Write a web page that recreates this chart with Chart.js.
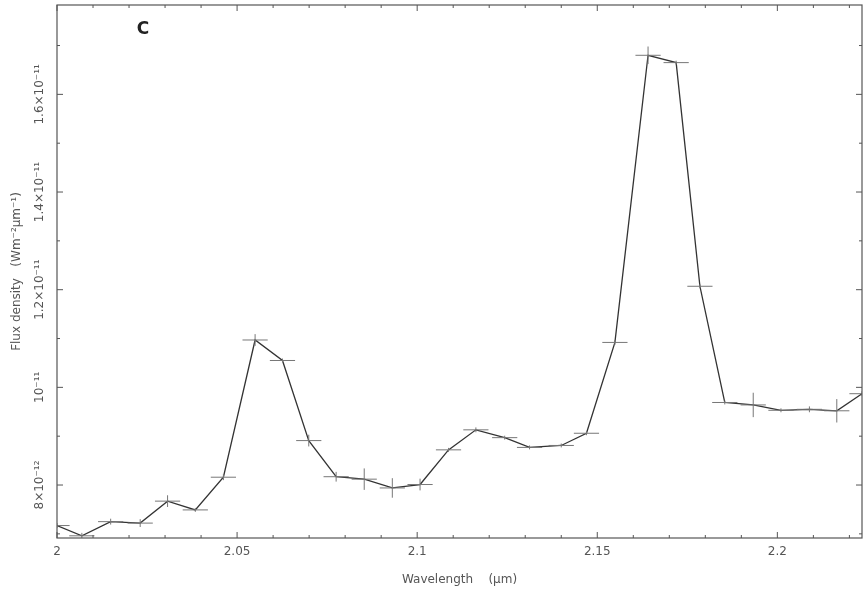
<!DOCTYPE html>
<html>
<head>
<meta charset="utf-8">
<script src="https://cdn.jsdelivr.net/npm/chart.js@4.4.0/dist/chart.umd.min.js"></script>
<style>
  html, body { margin: 0; padding: 0; background: #fff; }
</style>
</head>
<body>
<canvas id="spectrumChart" width="867" height="605"></canvas>
<script>
// wavelength in micron, flux density in W m^-2 um^-1
const wavelength = [
  2.0000, 2.0069, 2.0149, 2.0231, 2.0307, 2.0384, 2.0462, 2.0550, 2.0626, 2.0699,
  2.0775, 2.0853, 2.0931, 2.1008, 2.1087, 2.1163, 2.1243, 2.1312, 2.1400, 2.1470,
  2.1549, 2.1641, 2.1719, 2.1785, 2.1854, 2.1933, 2.2010, 2.2089, 2.2165, 2.2235
];
const flux = [
  7.17e-12, 6.96e-12, 7.25e-12, 7.22e-12, 7.67e-12, 7.49e-12, 8.16e-12, 1.097e-11, 1.055e-11, 8.91e-12,
  8.17e-12, 8.12e-12, 7.94e-12, 8.01e-12, 8.72e-12, 9.13e-12, 8.97e-12, 8.77e-12, 8.81e-12, 9.06e-12,
  1.092e-11, 1.680e-11, 1.665e-11, 1.207e-11, 9.69e-12, 9.64e-12, 9.53e-12, 9.55e-12, 9.52e-12, 9.87e-12
];
const fluxErr = [
  0.05e-12, 0.06e-12, 0.06e-12, 0.08e-12, 0.12e-12, 0.04e-12, 0.06e-12, 0.12e-12, 0.04e-12, 0.12e-12,
  0.10e-12, 0.22e-12, 0.20e-12, 0.12e-12, 0.04e-12, 0.05e-12, 0.04e-12, 0.04e-12, 0.04e-12, 0.04e-12,
  0.05e-12, 0.18e-12, 0.04e-12, 0.04e-12, 0.04e-12, 0.25e-12, 0.04e-12, 0.06e-12, 0.24e-12, 0.05e-12
];
const wavelengthErr = [
  0.0035, 0.0035, 0.0035, 0.0035, 0.0035, 0.0035, 0.0035, 0.0035, 0.0035, 0.0035,
  0.0035, 0.0035, 0.0035, 0.0035, 0.0035, 0.0035, 0.0035, 0.0035, 0.0035, 0.0035,
  0.0035, 0.0035, 0.0035, 0.0035, 0.0035, 0.0035, 0.0035, 0.0035, 0.0035, 0.0035
];
const xTickValues = [2, 2.05, 2.1, 2.15, 2.2];
const xTickLabels = ['2', '2.05', '2.1', '2.15', '2.2'];
const yTickValues = [8e-12, 1e-11, 1.2e-11, 1.4e-11, 1.6e-11];
const yTickLabels = ['8×10⁻¹²', '10⁻¹¹', '1.2×10⁻¹¹', '1.4×10⁻¹¹', '1.6×10⁻¹¹'];
const panelLabel = 'C';

const FONT = 'DejaVu Sans';
const TEXT_COLOR = '#555';
const AXIS_COLOR = '#555';

function near(list, v, tol) {
  return list.findIndex(t => Math.abs(t - v) < tol);
}

const errorBars = {
  id: 'errorBars',
  afterDatasetsDraw(chart) {
    const ctx = chart.ctx, x = chart.scales.x, y = chart.scales.y, area = chart.chartArea;
    ctx.save();
    ctx.beginPath();
    ctx.rect(area.left, area.top, area.right - area.left, area.bottom - area.top);
    ctx.clip();
    ctx.strokeStyle = '#777';
    ctx.lineWidth = 1;
    for (let i = 0; i < wavelength.length; i++) {
      const px = x.getPixelForValue(wavelength[i]);
      const py = y.getPixelForValue(flux[i]);
      ctx.beginPath();
      ctx.moveTo(x.getPixelForValue(wavelength[i] - wavelengthErr[i]), py);
      ctx.lineTo(x.getPixelForValue(wavelength[i] + wavelengthErr[i]), py);
      ctx.moveTo(px, y.getPixelForValue(flux[i] - fluxErr[i]));
      ctx.lineTo(px, y.getPixelForValue(flux[i] + fluxErr[i]));
      ctx.stroke();
    }
    ctx.restore();
  }
};

const frame = {
  id: 'frame',
  afterDraw(chart) {
    const ctx = chart.ctx, x = chart.scales.x, y = chart.scales.y, a = chart.chartArea;
    ctx.save();
    ctx.strokeStyle = AXIS_COLOR;
    ctx.lineWidth = 1.2;
    ctx.strokeRect(a.left, a.top, a.right - a.left, a.bottom - a.top);
    ctx.lineWidth = 1;
    ctx.beginPath();
    x.ticks.forEach(t => {
      const px = x.getPixelForValue(t.value);
      const len = near(xTickValues, t.value, 1e-6) >= 0 ? 6 : 3;
      ctx.moveTo(px, a.bottom); ctx.lineTo(px, a.bottom - len);
      ctx.moveTo(px, a.top); ctx.lineTo(px, a.top + len);
    });
    y.ticks.forEach(t => {
      const py = y.getPixelForValue(t.value);
      const len = near(yTickValues, t.value, 1e-15) >= 0 ? 6 : 3;
      ctx.moveTo(a.left, py); ctx.lineTo(a.left + len, py);
      ctx.moveTo(a.right, py); ctx.lineTo(a.right - len, py);
    });
    ctx.stroke();

    // rotated y tick labels
    ctx.fillStyle = TEXT_COLOR;
    ctx.font = '12px "' + FONT + '"';
    ctx.textAlign = 'center';
    ctx.textBaseline = 'middle';
    yTickValues.forEach((v, i) => {
      ctx.save();
      ctx.translate(a.left - 17, y.getPixelForValue(v));
      ctx.rotate(-Math.PI / 2);
      ctx.fillText(yTickLabels[i], 0, 0);
      ctx.restore();
    });

    ctx.fillStyle = '#222';
    ctx.font = 'bold 17px "' + FONT + '"';
    ctx.fillText(panelLabel, a.left + 86, a.top + 25);
    ctx.restore();
  }
};

new Chart(document.getElementById('spectrumChart'), {
  type: 'scatter',
  data: {
    datasets: [{
      data: wavelength.map((w, i) => ({ x: w, y: flux[i] })),
      showLine: true,
      borderColor: '#333',
      borderWidth: 1.3,
      pointRadius: 0,
      tension: 0
    }]
  },
  options: {
    responsive: false,
    animation: false,
    devicePixelRatio: 1,
    layout: { padding: { top: 5, right: 5, left: 0, bottom: 0 } },
    plugins: { legend: { display: false }, tooltip: { enabled: false } },
    scales: {
      x: {
        type: 'linear',
        min: 2.0,
        max: 2.2235,
        afterBuildTicks(scale) {
          const ticks = [];
          for (let i = 0; i <= 22; i++) ticks.push({ value: (200 + i) / 100 });
          scale.ticks = ticks;
        },
        afterFit(scale) { scale.height = 67; },
        grid: { display: false, drawTicks: false },
        border: { display: false },
        ticks: {
          autoSkip: false,
          maxRotation: 0,
          minRotation: 0,
          padding: 7,
          color: TEXT_COLOR,
          font: { family: FONT, size: 12 },
          callback(value) {
            const idx = near(xTickValues, value, 1e-6);
            return idx >= 0 ? xTickLabels[idx] : '';
          }
        },
        title: {
          display: true,
          text: 'Wavelength    (μm)',
          color: TEXT_COLOR,
          font: { family: FONT, size: 12 },
          padding: { top: 0, bottom: 18 }
        }
      },
      y: {
        type: 'linear',
        min: 6.915e-12,
        max: 1.783e-11,
        afterBuildTicks(scale) {
          const ticks = [];
          for (let i = 7; i <= 17; i++) ticks.push({ value: i * 1e-12 });
          scale.ticks = ticks;
        },
        afterFit(scale) { scale.width = 57; },
        grid: { display: false, drawTicks: false },
        border: { display: false },
        ticks: { display: false },
        title: {
          display: true,
          text: 'Flux density   (Wm⁻²μm⁻¹)',
          color: TEXT_COLOR,
          font: { family: FONT, size: 12 },
          padding: { top: 10, bottom: 0 }
        }
      }
    }
  },
  plugins: [errorBars, frame]
});
</script>
</body>
</html>
